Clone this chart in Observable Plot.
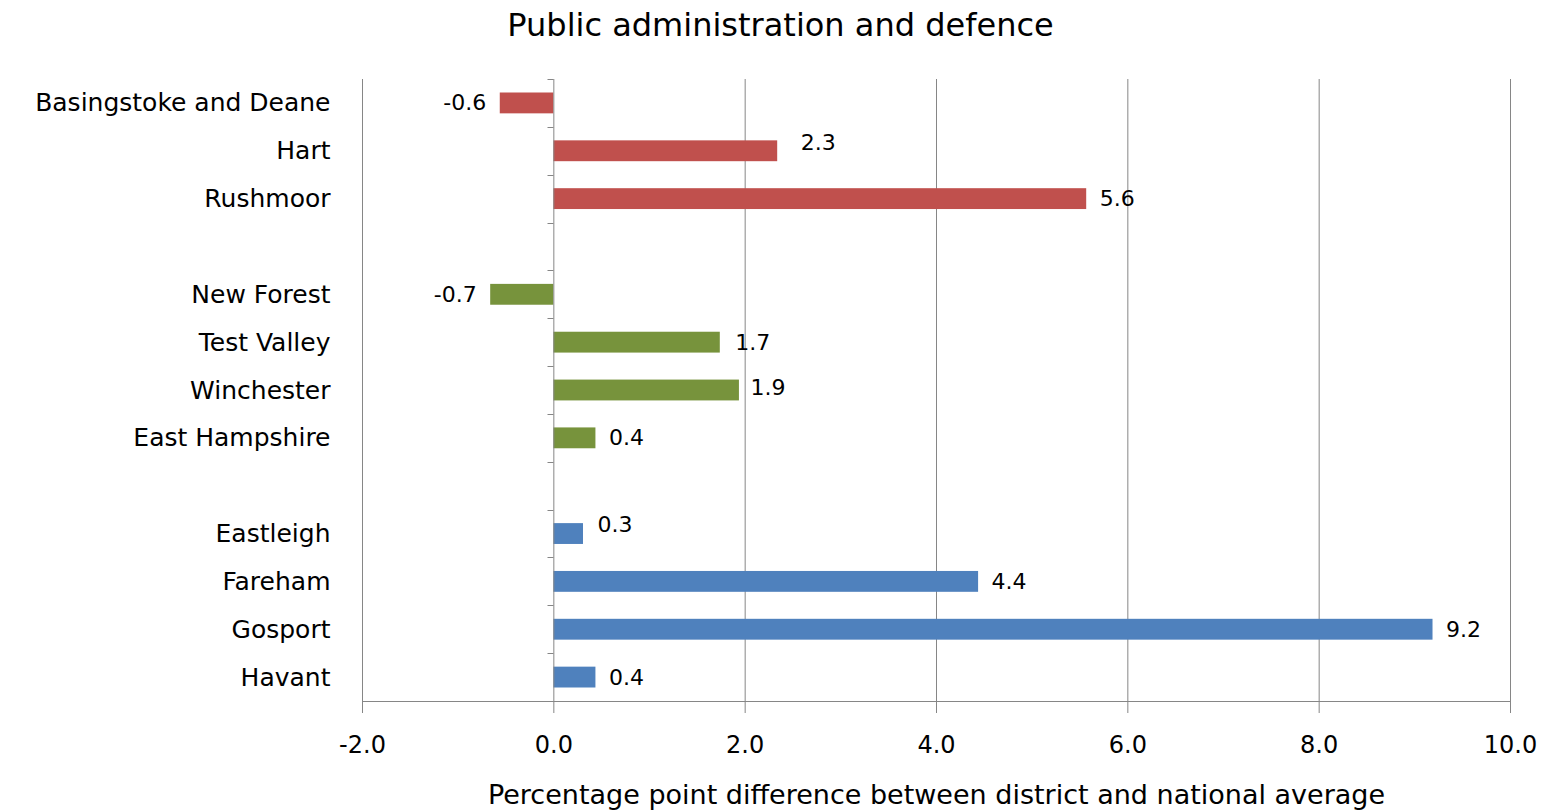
<!DOCTYPE html>
<html><head><meta charset="utf-8">
<script src="https://cdn.jsdelivr.net/npm/d3@7"></script>
<script src="https://cdn.jsdelivr.net/npm/@observablehq/plot@0.6"></script>
<style>
body{margin:0;background:#fff;font-family:"DejaVu Sans",sans-serif;}
#title{height:50px;line-height:50px;text-align:center;font-size:32px;color:#000;padding-left:16px;box-sizing:border-box;width:1545px;}
</style></head>
<body>
<div id="title">Public administration and defence</div>
<div id="chart"></div>
<script>
const districts = ["Basingstoke and Deane","Hart","Rushmoor","New Forest","Test Valley","Winchester","East Hampshire","Eastleigh","Fareham","Gosport","Havant"];
const groups = ["North","North","North","Central","Central","Central","Central","South","South","South","South"];
const values = [-0.56, 2.34, 5.57, -0.66, 1.74, 1.94, 0.44, 0.31, 4.44, 9.19, 0.44];
const groupNames = ["North","Central","South"];
const groupColors = ["#C0504D","#77933C","#4F81BD"];
const xTicks = [-2, 0, 2, 4, 6, 8, 10];
const xLabel = "Percentage point difference between district and national average";

const rows = districts.map((name, i) => ({name, group: groups[i], value: values[i]}));
// y domain: districts grouped, with an empty band between groups
const yDomain = [];
groupNames.forEach((g, gi) => {
  if (gi > 0) yDomain.push("__gap" + gi);
  rows.filter(r => r.group === g).forEach(r => yDomain.push(r.name));
});
const fmt = d => d.toFixed(1);
const grid = "#868686";
// small label nudges (px) as placed in the original chart
const labelNudge = {"Hart": [10, -8], "Winchester": [-2, -3], "Eastleigh": [1, -9], "Test Valley": [2, 0]};

function axisDecor(index, scales, values, dims) {
  const x = scales.x, y = scales.y;
  const step = y(yDomain[1]) - y(yDomain[0]);
  const x0 = Math.round(x(0)) + 0.5;
  const g = d3.create("svg:g").attr("stroke", grid).attr("stroke-width", 1);
  for (let i = 0; i <= yDomain.length; i++) {
    const yy = Math.round(y(yDomain[0]) + i * step) + 0.5;
    g.append("line").attr("x1", x0 - 6).attr("x2", x0).attr("y1", yy).attr("y2", yy);
  }
  const yb = dims.height - dims.marginBottom + 0.5;
  g.append("line").attr("x1", dims.marginLeft).attr("x2", dims.width - dims.marginRight).attr("y1", yb).attr("y2", yb);
  return g.node();
}

const labelMarks = rows.map(r => {
  const [nx, ny] = labelNudge[r.name] || [0, 0];
  const pos = r.value >= 0;
  return Plot.text([r], {x: "value", y: "name", text: d => fmt(d.value),
    textAnchor: pos ? "start" : "end", dx: (pos ? 13 : -14) + nx, dy: ny, fontSize: 22});
});

const chart = Plot.plot({
  width: 1545,
  height: 761,
  marginTop: 29,
  marginBottom: 110,
  marginLeft: 362,
  marginRight: 35,
  style: {fontFamily: "'DejaVu Sans', sans-serif", fontSize: "24px", color: "#000", background: "#fff", overflow: "visible"},
  x: {domain: [-2, 10]},
  y: {domain: yDomain, padding: 0, round: false},
  color: {domain: groupNames, range: groupColors},
  marks: [
    Plot.ruleX(xTicks.filter(d => d !== 0), {stroke: grid, strokeOpacity: 1}),
    Plot.barX(rows, {x: "value", y: "name", fill: "group", insetTop: 13.5, insetBottom: 13.5}),
    Plot.ruleX([0], {stroke: grid, strokeOpacity: 1}),
    axisDecor,
    Plot.axisX({ticks: xTicks, tickSize: 12, tickPadding: 22, stroke: grid, strokeOpacity: 1, tickFormat: fmt, fontSize: 24, label: null}),
    Plot.axisY({tickSize: 0, tickPadding: 32, fontSize: 25, tickFormat: d => d.startsWith("__gap") ? "" : d, label: null}),
    ...labelMarks,
    Plot.text([xLabel], {text: d => d, frameAnchor: "bottom", dy: 94, fontSize: 27, lineAnchor: "middle"})
  ]
});
document.getElementById("chart").appendChild(chart);
</script>
</body></html>
